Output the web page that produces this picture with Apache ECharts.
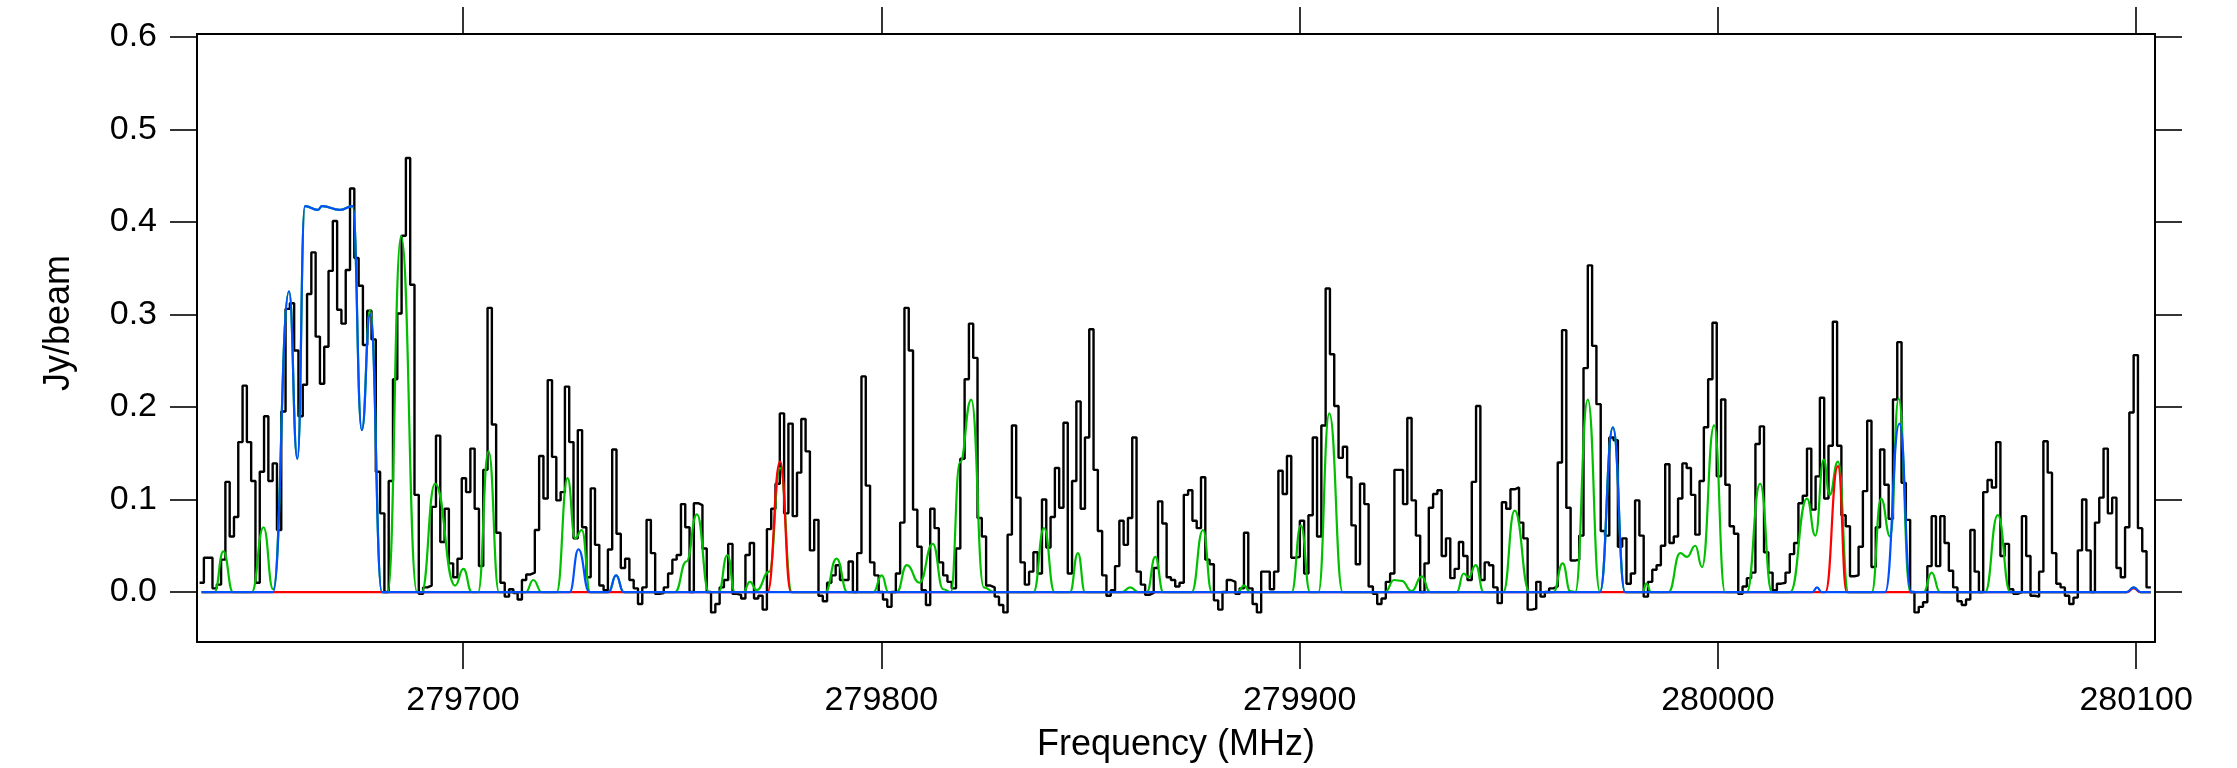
<!DOCTYPE html>
<html><head><meta charset="utf-8">
<script src="https://cdn.jsdelivr.net/npm/echarts@6/dist/echarts.min.js"></script>
<style>html,body{margin:0;padding:0;background:#fff}#c{width:2237px;height:768px}</style>
</head><body><div id="c"></div>
<script>
// ---- data ----
const freqStart = 279637.02;   // left edge of first channel, MHz
const chanWidth = 1.0275;      // channel width, MHz
const flux = [
0.01,0.037,0.037,0.004,0.008,0.035,0.119,0.06,0.081,0.162,
0.223,0.162,0.12,0.01,0.13,0.19,0.12,0.139,0.067,0.195,
0.306,0.312,0.261,0.19,0.224,0.322,0.367,0.276,0.225,0.265,
0.347,0.401,0.305,0.29,0.348,0.436,0.361,0.331,0.267,0.304,
0.273,0.13,0.085,0.0,0.12,0.23,0.301,0.385,0.469,0.332,
0.105,-0.002,0.005,0.007,0.092,0.169,0.054,0.09,0.031,0.016,
0.036,0.123,0.108,0.155,0.09,0.028,0.132,0.307,0.181,0.064,
0.01,-0.005,0.003,-0.001,-0.008,0.013,0.019,0.021,0.067,0.147,
0.101,0.229,0.146,0.099,0.108,0.222,0.162,0.058,0.175,0.07,
0.016,0.112,0.051,0.007,0.002,0.046,0.154,0.063,0.026,0.036,
0.013,0.004,-0.013,0.005,0.078,0.042,-0.002,-0.001,0.005,0.02,
0.035,0.04,0.095,0.07,0.0,0.096,0.094,0.047,0.0,-0.022,
-0.013,0.005,0.013,0.052,-0.002,-0.003,-0.007,0.04,0.053,-0.007,
-0.004,-0.019,0.068,0.09,0.117,0.193,0.085,0.182,0.082,0.129,
0.187,0.152,0.045,0.078,-0.004,-0.01,0.01,0.018,0.029,0.013,
0.013,0.033,0.0,0.042,0.233,0.115,0.032,0.018,0.0,-0.008,
-0.016,0.0,0.02,0.075,0.307,0.261,0.089,0.049,0.002,-0.014,
0.09,0.069,0.032,0.018,0.011,0.004,0.047,0.144,0.23,0.29,
0.253,0.08,0.06,0.007,0.005,-0.005,-0.014,-0.022,0.062,0.18,
0.102,0.032,0.008,0.022,0.043,0.02,0.1,0.048,0.081,0.134,
0.091,0.183,0.02,0.12,0.206,0.09,0.167,0.284,0.132,0.066,
0.018,-0.004,0.002,0.028,0.077,0.051,0.08,0.167,0.022,0.008,
-0.003,-0.001,0.026,0.098,0.074,0.016,0.013,0.006,0.01,0.105,
0.11,0.077,0.069,0.124,0.035,0.03,-0.009,-0.019,0.0,0.013,
0.011,-0.002,0.004,0.064,0.004,-0.013,-0.022,0.022,0.022,0.003,
0.022,0.131,0.106,0.147,0.037,0.038,0.077,0.02,0.083,0.167,
0.06,0.18,0.328,0.257,0.201,0.145,0.157,0.124,0.072,0.03,
0.117,0.095,0.006,-0.002,-0.013,-0.007,0.011,0.02,0.132,0.132,
0.095,0.188,0.099,0.061,0.0,0.031,0.091,0.106,0.11,0.039,
0.058,0.015,0.025,0.054,0.039,0.013,0.119,0.201,0.013,0.032,
0.029,0.005,-0.012,0.097,0.09,0.111,0.113,0.075,0.058,-0.019,
-0.018,0.011,-0.005,0.0,0.004,0.006,0.14,0.283,0.091,0.034,
0.035,0.061,0.242,0.353,0.266,0.203,0.066,0.061,0.167,0.164,
0.049,0.058,0.009,0.02,0.099,0.061,-0.005,0.011,0.024,0.029,
0.05,0.138,0.053,0.06,0.101,0.139,0.134,0.105,0.062,0.12,
0.178,0.23,0.291,0.125,0.208,0.116,0.071,0.063,-0.002,0.006,
0.015,0.021,0.16,0.179,0.043,0.021,0.002,0.009,0.01,0.021,
0.041,0.053,0.096,0.104,0.155,0.089,0.125,0.21,0.101,0.158,
0.292,0.158,0.083,0.071,0.017,0.018,0.049,0.109,0.185,0.027,
0.07,0.154,0.116,0.079,0.208,0.27,0.118,0.078,0.0,-0.022,
-0.016,-0.011,0.028,0.082,0.028,0.082,0.053,0.023,0.005,-0.01,
-0.014,-0.008,0.067,0.022,0.0,0.108,0.121,0.113,0.162,0.039,
0.052,0.003,-0.002,0.0,0.082,0.039,-0.004,-0.005,0.022,0.163,
0.129,0.042,0.009,0.005,-0.004,-0.013,-0.006,0.045,0.1,0.045,
0.0,0.075,0.102,0.155,0.085,0.102,0.026,0.016,0.07,0.194,
0.256,0.069,0.044,0.005
];
// model curves: [frequency MHz, Jy/beam] at baselines and extrema
const greenModel = [
[279637.5,0],
[279640.6,0],[279642.7,0.044],[279645.0,0],
[279649.5,0],[279652.3,0.07],[279654.6,0.003],
[279658.4,0.325],[279660.4,0.144],[279662.2,0.417],[279665.3,0.413],[279666.3,0.417],[279670.6,0.413],[279673.6,0.417],[279675.8,0.175],[279677.8,0.305],[279680.6,0],
[279682.0,0],[279685.2,0.385],[279689.0,0],
[279690.1,0],[279693.3,0.117],[279698.1,0.007],[279700.1,0.025],[279702.1,0],
[279703.6,0],[279706.1,0.152],[279708.6,0],
[279715.0,0],[279716.8,0.013],[279718.8,0],
[279722.4,0],[279725.0,0.123],[279726.8,0.058],[279728.4,0.067],[279730.4,0],
[279734.8,0],[279736.6,0.018],[279738.4,0],
[279750.7,0],[279753.4,0.033],[279755.9,0.084],[279758.8,0],
[279761.1,0],[279763.2,0.04],[279765.0,0],
[279767.0,0],[279768.6,0.011],[279770.2,0.002],[279773.2,0.022],[279775.8,0.134],[279778.6,0],
[279786.6,0],[279789.3,0.036],[279791.9,0],
[279798.1,0],[279800.1,0.018],[279801.7,0],
[279803.7,0],[279806.1,0.029],[279809.1,0.01],[279812.3,0.052],[279814.8,0.003],[279816.6,0],
[279818.8,0.14],[279821.5,0.208],[279824.5,0.005],[279827.0,0],
[279836.4,0],[279838.9,0.069],[279841.4,0],
[279845.1,0],[279847.0,0.042],[279848.7,0],
[279857.5,0],[279859.5,0.005],[279861.5,0],
[279863.5,0],[279865.5,0.038],[279867.4,0],
[279874.2,0],[279876.9,0.067],[279879.0,0],
[279885.2,0],[279886.7,0.007],[279888.2,0],
[279898.1,0],[279900.3,0.072],[279902.5,0],
[279904.5,0],[279907.1,0.193],[279910.3,0],
[279920.4,0],[279922.6,0.013],[279924.4,0.012],[279926.8,0.001],[279929.2,0.017],[279931.2,0],
[279937.6,0],[279939.2,0.02],[279940.4,0.016],[279942.1,0.029],[279944.0,0],
[279948.7,0],[279951.4,0.088],[279955.0,0],
[279960.7,0],[279962.9,0.031],[279964.7,0.001],
[279965.9,0],[279968.9,0.208],[279971.8,0],
[279974.9,0.178],[279977.8,0],
[279982.0,0],[279982.9,0.009],[279984.0,0],
[279988.2,0],[279991.0,0.042],[279992.6,0.038],[279994.6,0.05],[279996.2,0.027],[279999.1,0.18],[280001.7,0],
[280006.9,0],[280010.1,0.117],[280012.9,0],
[280017.3,0],[280021.3,0.101],[280023.3,0.061],[280025.3,0.143],[280026.7,0.105],[280028.7,0.141],[280031.2,0],
[280036.8,0],[280039.0,0.101],[280041.2,0.06],[280043.2,0.209],[280046.0,0],
[280049.2,0],[280051.1,0.021],[280053.1,0],
[280063.9,0],[280066.9,0.083],[280069.9,0],
[280097.8,0],[280099.4,0.005],[280101.0,0],
[280103.5,0]
];
const redModel = [
[279637.5,0],[279772.8,0],[279775.8,0.141],[279778.4,0],
[280025.7,0],[280028.7,0.136],[280030.8,0],
[280097.8,0],[280099.4,0.004],[280101.0,0],
[280103.5,0]
];
const blueModel = [
[279637.5,0],[279654.6,0],[279658.4,0.325],[279660.4,0.144],[279662.2,0.417],[279665.3,0.413],[279666.3,0.417],[279670.6,0.413],[279673.6,0.417],[279675.8,0.175],[279677.8,0.30],[279680.6,0],
[279725.5,0],[279727.6,0.046],[279730.2,0],
[279734.8,0],[279736.6,0.018],[279738.4,0],
[279971.8,0],[279974.9,0.178],[279977.8,0],
[280022.6,0],[280023.7,0.005],[280024.8,0],
[280040.0,0],[280043.4,0.182],[280046.2,0],
[280097.8,0],[280099.4,0.005],[280101.0,0],
[280103.5,0]
];
const xTicks = [279700, 279800, 279900, 280000, 280100];
const yTicks = [0, 0.1, 0.2, 0.3, 0.4, 0.5, 0.6];
const xMin = 279636.4, xMax = 280104.5;
const yMin = -0.054, yMax = 0.603;

// ---- build ----
const stepData = flux.map((v, i) => [freqStart + i * chanWidth, v]);
stepData.push([freqStart + flux.length * chanWidth, flux[flux.length - 1]]);

const FONT = 'Liberation Sans, Arial, Helvetica, sans-serif';
const axisLineStyle = { color: '#000', width: 2 };
const tickStyle = { color: '#000', width: 1.6 };

function xAx(pos, labels) {
  return {
    type: 'value', position: pos, min: xMin, max: xMax, gridIndex: 0,
    axisLine: { show: true, onZero: false, lineStyle: axisLineStyle },
    axisTick: { show: true, inside: false, length: 27, customValues: xTicks, lineStyle: tickStyle },
    axisLabel: labels ? { show: true, customValues: xTicks, margin: 42, fontSize: 34, color: '#000', fontFamily: FONT,
                          formatter: v => String(Math.round(v)) } : { show: false },
    splitLine: { show: false },
    name: labels ? 'Frequency (MHz)' : '', nameLocation: 'middle', nameGap: 85,
    nameTextStyle: { fontSize: 36, color: '#000', fontFamily: FONT }
  };
}
function yAx(pos, labels) {
  return {
    type: 'value', position: pos, min: yMin, max: yMax, gridIndex: 0,
    axisLine: { show: true, onZero: false, lineStyle: axisLineStyle },
    axisTick: { show: true, inside: false, length: 27, customValues: yTicks, lineStyle: tickStyle },
    axisLabel: labels ? { show: true, customValues: yTicks, margin: 40, fontSize: 34, color: '#000', fontFamily: FONT,
                          formatter: v => v.toFixed(1) } : { show: false },
    splitLine: { show: false },
    name: labels ? 'Jy/beam' : '', nameLocation: 'middle', nameGap: 120, nameRotate: 90,
    nameTextStyle: { fontSize: 36, color: '#000', fontFamily: FONT, padding: [0, 0, 0, 30] }
  };
}
function model(data, color) {
  return { type: 'line', data: data, showSymbol: false, symbol: 'none', smooth: 0.5, smoothMonotone: 'x',
           lineStyle: { color: color, width: 2.2 }, itemStyle: { color: color }, animation: false, silent: true };
}

const chart = echarts.init(document.getElementById('c'), null, { renderer: 'canvas' });
chart.setOption({
  backgroundColor: '#fff',
  animation: false,
  grid: { left: 197, right: 82, top: 34, bottom: 126, containLabel: false },
  xAxis: [xAx('bottom', true), xAx('top', false)],
  yAxis: [yAx('left', true), yAx('right', false)],
  series: [
    { type: 'line', data: stepData, step: 'end', showSymbol: false, symbol: 'none',
      lineStyle: { color: '#000', width: 2.4 }, itemStyle: { color: '#000' }, animation: false, silent: true },
    model(greenModel, '#00c000'),
    model(redModel, '#ff0000'),
    model(blueModel, '#0050ff')
  ]
});
</script>
</body></html>
